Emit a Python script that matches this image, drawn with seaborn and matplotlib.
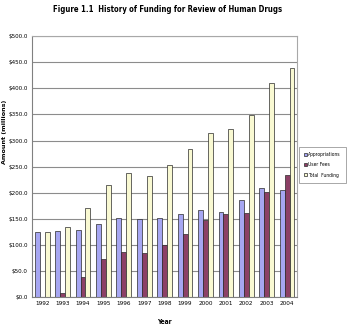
import matplotlib
matplotlib.use("Agg")
import matplotlib.pyplot as plt
import seaborn as sns
import pandas as pd

years = ["1992", "1993", "1994", "1995", "1996", "1997", "1998",
         "1999", "2000", "2001", "2002", "2003", "2004"]
appropriations = [125, 126, 129, 140, 152, 149, 152, 160, 168, 164, 186, 210, 205]
user_fees = [0, 8, 39, 74, 86, 84, 101, 122, 147, 160, 162, 201, 234]
total_funding = [125, 135, 170, 214, 237, 232, 253, 283, 315, 323, 349, 410, 438]
series_names = ["Appropriations", "User Fees", "Total  Funding"]
y_ticks = [0, 50, 100, 150, 200, 250, 300, 350, 400, 450, 500]
y_tick_labels = ["$0.0", "$50.0", "$100.0", "$150.0", "$200.0", "$250.0",
                 "$300.0", "$350.0", "$400.0", "$450.0", "$500.0"]

sns.set_theme(style="white")
plt.rcParams["font.family"] = ["DejaVu Sans"]
plt.rcParams["font.stretch"] = "condensed"

rows = []
for name, vals in zip(series_names, [appropriations, user_fees, total_funding]):
    for y, v in zip(years, vals):
        rows.append({"Year": y, "Amount": v, "Series": name})
df = pd.DataFrame(rows)

fig = plt.figure(figsize=(3.5, 3.29), dpi=100)
ax = fig.add_axes([32 / 350, 1 - 297.3 / 329, (297.3 - 32) / 350, (297.3 - 36) / 329])

sns.barplot(data=df, x="Year", y="Amount", hue="Series",
            palette=["#9999FF", "#993366", "#FFFFCC"], width=0.72,
            edgecolor="#2a2a2a", linewidth=0.5, ax=ax, legend=True)

ax.set_ylim(0, 500)
ax.set_xlim(-0.5, len(years) - 0.5)
ax.set_yticks(y_ticks)
ax.set_yticklabels(y_tick_labels)
ax.yaxis.grid(True, color="#8c8c8c", linewidth=0.8)
ax.set_axisbelow(True)
ax.tick_params(axis="y", labelsize=4.5, length=2, width=0.6, color="#808080",
               pad=1, labelcolor="black")
ax.tick_params(axis="x", labelsize=4.6, length=0, pad=3, labelcolor="black")
ax.set_xlabel("")
ax.set_ylabel("")
for s in ["left", "bottom"]:
    ax.spines[s].set_color("#808080")
    ax.spines[s].set_linewidth(0.8)
for s in ["top", "right"]:
    ax.spines[s].set_color("#a8a8a8")
    ax.spines[s].set_linewidth(0.8)

leg = ax.legend(loc="upper left", bbox_to_anchor=(299 / 350, 1 - 147 / 329),
                bbox_transform=fig.transFigure, fontsize=3.6, frameon=True,
                fancybox=False, handlelength=0.6, handleheight=0.6,
                handletextpad=0.25, borderpad=1.0, labelspacing=1.05,
                borderaxespad=0)
leg.get_frame().set_edgecolor("#808080")
leg.get_frame().set_linewidth(0.6)
for t in leg.get_texts():
    t.set_color("black")

fig.text(168 / 350, 1 - 10 / 329, "Figure 1.1  History of Funding for Review of Human Drugs",
         ha="center", va="center", fontsize=5.6, fontweight="bold", color="black")
fig.text(5 / 350, 1 - 132 / 329, "Amount (millions)", rotation=90, ha="center",
         va="center", fontsize=4.6, fontweight="bold", fontstretch="normal",
         color="black")
fig.text(164 / 350, 1 - 322 / 329, "Year", ha="center", va="center",
         fontsize=4.8, fontweight="bold", color="black")

fig.savefig("out.png", dpi=100)
